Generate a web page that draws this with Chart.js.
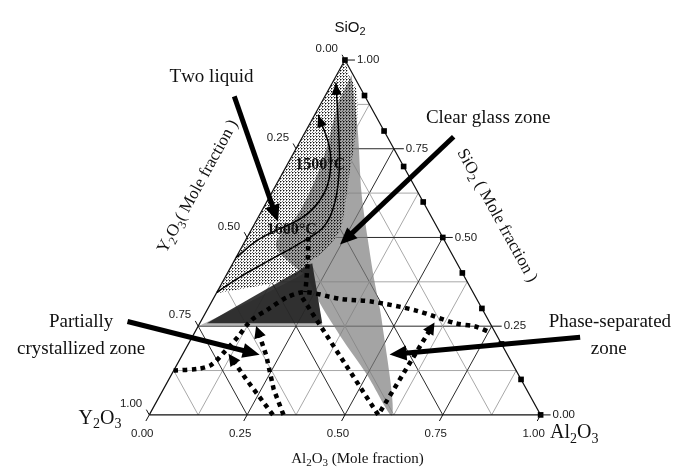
<!DOCTYPE html>
<html>
<head>
<meta charset="utf-8">
<script src="https://cdn.jsdelivr.net/npm/chart.js@4.4.1/dist/chart.umd.min.js"></script>
<style>
  html, body { margin: 0; padding: 0; background: #fff; }
  canvas { display: block; }
</style>
</head>
<body>
<canvas id="ternary" width="679" height="470"></canvas>
<script>
// Compositions are [Al2O3, SiO2] mole fractions (Y2O3 = 1 - Al2O3 - SiO2)
const tickValues = [0, 0.25, 0.5, 0.75, 1];
const gridSteps = [0.125, 0.25, 0.375, 0.5, 0.625, 0.75, 0.875];
const edgeMarkers = [0, 0.1, 0.2, 0.3, 0.4, 0.5, 0.6, 0.7, 0.8, 0.9, 1]; // SiO2 on the Al2O3-SiO2 side

const twoLiquid = [[0, 1], [0.038, 0.95], [0.067, 0.922], [0.106, 0.853], [0.14, 0.77], [0.169, 0.687], [0.2, 0.604],
  [0.227, 0.521], [0.217, 0.465], [0.196, 0.432], [0.189, 0.404], [0.162, 0.382], [0.11, 0.366], [0.058, 0.355], [0, 0.343]];
const clearGlass = [[0.038, 0.958], [0.134, 0.798], [0.231, 0.623], [0.33, 0.465], [0.389, 0.374], [0.458, 0.271], [0.621, 0],
  [0.499, 0.114], [0.375, 0.224], [0.266, 0.327], [0.201, 0.396], [0.184, 0.404], [0.084, 0.479], [0.098, 0.576], [0.085, 0.715], [0.042, 0.881]];
const crystalHalo = [[0, 0.25], [0.1, 0.321], [0.19, 0.393], [0.206, 0.421], [0.316, 0.252]];
const crystalCore = [[0.018, 0.258], [0.189, 0.416], [0.203, 0.427], [0.313, 0.258]];

const innerIsotherm = [[0, 0.443], [0.031, 0.493], [0.073, 0.526], [0.105, 0.548], [0.128, 0.582], [0.134, 0.632], [0.119, 0.687], [0.082, 0.756], [0.009, 0.845]];
const outerIsotherm = [[0, 0.346], [0.04, 0.391], [0.092, 0.438], [0.144, 0.485], [0.18, 0.529], [0.177, 0.59], [0.148, 0.673], [0.1, 0.77], [0.009, 0.936]];

const liquidusLine = [[0, 0.125], [0.061, 0.13], [0.088, 0.141], [0.103, 0.177], [0.117, 0.222], [0.127, 0.266], [0.156, 0.299], [0.187, 0.332],
  [0.226, 0.346], [0.324, 0.327], [0.411, 0.319], [0.535, 0.294], [0.654, 0.258], [0.709, 0.249], [0.756, 0.232]];
const verticalPath = [[0.156, 0.501], [0.19, 0.43], [0.226, 0.346]];
const phasePath = [[0.226, 0.33], [0.585, 0], [0.598, 0.249]];
const crystalPathA = [[0.316, 0], [0.198, 0.1], [0.129, 0.161]];
const crystalPathB = [[0.343, 0], [0.282, 0.072], [0.214, 0.169], [0.158, 0.238]];

const toXY = ([a, s]) => ({ x: a + s / 2, y: s });

// plot window (cartesian units, triangle base = 0..1)
const X_MIN = -0.3712, X_MAX = 1.3434, Y_MIN = -0.144, Y_MAX = 1.1579;

// callout arrows, cartesian plot units [from, to]
const callouts = [
  [[0.2172, 0.8975], [0.3232, 0.5623]],
  [[0.7778, 0.7839], [0.5, 0.4931]],
  [[-0.0556, 0.2632], [0.2652, 0.1745]],
  [[1.101, 0.2188], [0.6313, 0.1717]]
];

const SERIF = '"Liberation Serif", "Times New Roman", serif';
const SANS = '"Liberation Sans", Arial, sans-serif';

const labels = [
  { text: 'Two liquid', at: [0.159, 0.956], size: 19 },
  { text: 'Clear glass zone', at: [0.866, 0.839], size: 19 },
  { text: 'Partially', at: [-0.174, 0.266], size: 19 },
  { text: 'crystallized zone', at: [-0.174, 0.188], size: 19 },
  { text: 'Phase-separated', at: [1.177, 0.266], size: 19 },
  { text: 'zone', at: [1.174, 0.188], size: 19 },
  { text: '1500°C', at: [0.437, 0.709], size: 16, weight: 'bold' },
  { text: '1600°C', at: [0.364, 0.526], size: 16, weight: 'bold' },
  { text: 'Y_2O_3', at: [-0.126, -0.006], size: 20 },
  { text: 'Al_2O_3', at: [1.086, -0.047], size: 20 },
  { text: 'Al_2O_3 (Mole fraction)', at: [0.532, -0.122], size: 15 },
  { text: 'SiO_2', at: [0.513, 1.094], size: 15, family: SANS }
];

function stipple() {
  const tile = document.createElement('canvas');
  tile.width = 3; tile.height = 3;
  const t = tile.getContext('2d');
  t.fillStyle = 'rgba(0,0,0,0.95)';
  t.fillRect(1, 1, 1, 1);
  t.fillStyle = 'rgba(0,0,0,0.55)';
  t.fillRect(0, 0, 1, 1);
  t.fillStyle = 'rgba(0,0,0,0.4)';
  t.fillRect(2, 1, 1, 1);
  t.fillRect(1, 2, 1, 1);
  return t.createPattern(tile, 'repeat');
}

// build layers bottom -> top
const layers = [];

gridSteps.forEach(g => {
  const major = Math.abs(g * 4 - Math.round(g * 4)) < 1e-6;
  const style = { borderColor: major ? '#2a2a2a' : '#a8a8a8', borderWidth: 1 };
  layers.push({ data: [[0, g], [1 - g, g]].map(toXY), ...style });
  layers.push({ data: [[g, 0], [g, 1 - g]].map(toXY), ...style });
  layers.push({ data: [[1 - g, 0], [0, 1 - g]].map(toXY), ...style });
});

layers.push({ data: twoLiquid.map(toXY), fill: 'shape', backgroundColor: '#ffffff', borderWidth: 0, tension: 0.3 });
layers.push({ data: clearGlass.map(toXY), fill: 'shape', backgroundColor: 'rgba(125,125,125,0.7)', borderWidth: 0, tension: 0.3 });
layers.push({ data: twoLiquid.map(toXY), fill: 'shape', backgroundColor: stipple(), borderWidth: 0, tension: 0.3 });
layers.push({ data: crystalHalo.map(toXY), fill: 'shape', backgroundColor: 'rgba(150,150,150,0.7)', borderWidth: 0 });
layers.push({ data: crystalCore.map(toXY), fill: 'shape', backgroundColor: 'rgba(30,30,30,0.88)', borderWidth: 0 });

layers.push({ data: [[0, 0], [1, 0], [0, 1], [0, 0]].map(toXY), borderColor: '#111', borderWidth: 1.2 });

layers.push({ data: innerIsotherm.map(toXY), borderColor: '#000', borderWidth: 1.5, tension: 0.4, arrow: { len: 12, half: 5, lead: 0 } });
layers.push({ data: outerIsotherm.map(toXY), borderColor: '#000', borderWidth: 1.5, tension: 0.4, arrow: { len: 12, half: 5, lead: 0 } });

const dotted = { borderColor: '#000', borderWidth: 4.5, borderDash: [4.5, 4.5], borderCapStyle: 'butt' };
layers.push({ data: liquidusLine.map(toXY), tension: 0.3, ...dotted });
layers.push({ data: verticalPath.map(toXY), ...dotted });
layers.push({ data: phasePath.map(toXY), ...dotted, arrow: { len: 12, half: 6, lead: 0.4 } });
layers.push({ data: crystalPathA.map(toXY), ...dotted, arrow: { len: 12, half: 6, lead: 0.4 } });
layers.push({ data: crystalPathB.map(toXY), ...dotted, arrow: { len: 12, half: 6, lead: 0.4 } });

layers.push({
  data: edgeMarkers.map(s => toXY([1 - s, s])), showLine: false,
  pointStyle: 'rect', pointRadius: 4, pointBackgroundColor: '#000', pointBorderWidth: 0
});

callouts.forEach(c => {
  layers.push({ data: c.map(([x, y]) => ({ x, y })), borderColor: '#000', borderWidth: 5, arrow: { len: 17, half: 7.5, lead: 0.4 } });
});

const datasets = layers.map((d, i) => ({ showLine: true, fill: false, pointRadius: 0, order: layers.length - i, ...d }));

// text with single-char subscripts written as _x
function richText(ctx, str, x, y, size, family, align, weight) {
  const parts = [];
  for (let i = 0; i < str.length; i++) {
    if (str[i] === '_') { parts.push({ t: str[i + 1], sub: true }); i++; }
    else parts.push({ t: str[i], sub: false });
  }
  const mainFont = `${weight || 'normal'} ${size}px ${family}`;
  const subFont = `${weight || 'normal'} ${Math.round(size * 0.72)}px ${family}`;
  let total = 0;
  parts.forEach(p => { ctx.font = p.sub ? subFont : mainFont; p.w = ctx.measureText(p.t).width; total += p.w; });
  let cx = align === 'center' ? x - total / 2 : align === 'right' ? x - total : x;
  ctx.textAlign = 'left';
  ctx.textBaseline = 'alphabetic';
  const base = y + size * 0.33;
  parts.forEach(p => {
    ctx.font = p.sub ? subFont : mainFont;
    ctx.fillText(p.t, cx, p.sub ? base + size * 0.22 : base);
    cx += p.w;
  });
}

const arrowHeads = {
  id: 'arrowHeads',
  afterDatasetsDraw(chart) {
    const ctx = chart.ctx;
    chart.data.datasets.forEach((ds, i) => {
      if (!ds.arrow) return;
      const pts = chart.getDatasetMeta(i).data;
      const p2 = pts[pts.length - 1];
      let p1 = pts[pts.length - 2];
      if (p2.cp1x !== undefined && Math.hypot(p2.x - p2.cp1x, p2.y - p2.cp1y) > 1) p1 = { x: p2.cp1x, y: p2.cp1y };
      const ang = Math.atan2(p2.y - p1.y, p2.x - p1.x);
      const { len, half, lead } = ds.arrow;
      ctx.save();
      ctx.translate(p2.x + Math.cos(ang) * len * lead, p2.y + Math.sin(ang) * len * lead);
      ctx.rotate(ang);
      ctx.beginPath();
      ctx.moveTo(0, 0);
      ctx.lineTo(-len, -half);
      ctx.lineTo(-len, half);
      ctx.closePath();
      ctx.fillStyle = '#000';
      ctx.fill();
      ctx.restore();
    });
  }
};

const axisText = {
  id: 'axisText',
  afterDraw(chart) {
    const ctx = chart.ctx;
    const { x: sx, y: sy } = chart.scales;
    const pt = ([a, s]) => { const p = toXY([a, s]); return { x: sx.getPixelForValue(p.x), y: sy.getPixelForValue(p.y) }; };
    const yCorner = pt([0, 0]), aCorner = pt([1, 0]), apex = pt([0, 1]);
    const unit = (p, q) => { const dx = q.x - p.x, dy = q.y - p.y, n = Math.hypot(dx, dy); return { x: dx / n, y: dy / n }; };
    const upLeft = unit(aCorner, apex);
    const downLeft = unit(apex, yCorner);

    ctx.save();
    ctx.strokeStyle = '#111';
    ctx.lineWidth = 1;
    ctx.fillStyle = '#1a1a1a';
    ctx.font = `11.5px ${SANS}`;
    tickValues.forEach(v => {
      const lab = v.toFixed(2);
      // left: Y2O3
      let p = pt([0, 1 - v]);
      ctx.beginPath(); ctx.moveTo(p.x, p.y); ctx.lineTo(p.x + upLeft.x * 6, p.y + upLeft.y * 6); ctx.stroke();
      ctx.textAlign = 'right'; ctx.textBaseline = 'middle';
      ctx.fillText(lab, p.x - 7, p.y - 11);
      // bottom: Al2O3
      p = pt([v, 0]);
      ctx.beginPath(); ctx.moveTo(p.x, p.y); ctx.lineTo(p.x + downLeft.x * 7, p.y + downLeft.y * 7); ctx.stroke();
      ctx.textAlign = 'center';
      ctx.fillText(lab, p.x - 7, p.y + 19);
      // right: SiO2
      p = pt([1 - v, v]);
      ctx.beginPath(); ctx.moveTo(p.x, p.y); ctx.lineTo(p.x + 10, p.y); ctx.stroke();
      ctx.textAlign = 'left';
      ctx.fillText(lab, p.x + 12, p.y);
    });

    ctx.fillStyle = '#111';
    labels.forEach(l => {
      richText(ctx, l.text, sx.getPixelForValue(l.at[0]), sy.getPixelForValue(l.at[1]), l.size, l.family || SERIF, 'center', l.weight);
    });

    // rotated side titles, parallel to the triangle edges
    const sideTitle = (text, at, from, to) => {
      ctx.save();
      ctx.translate(sx.getPixelForValue(at[0]), sy.getPixelForValue(at[1]));
      ctx.rotate(Math.atan2(to.y - from.y, to.x - from.x));
      richText(ctx, text, 0, 0, 17, SERIF, 'center');
      ctx.restore();
    };
    sideTitle('Y_2O_3( Mole fraction )', [0.122, 0.645], yCorner, apex);
    sideTitle('SiO_2 ( Mole fraction )', [0.891, 0.563], apex, aCorner);
    ctx.restore();
  }
};

new Chart(document.getElementById('ternary').getContext('2d'), {
  type: 'scatter',
  data: { datasets },
  options: {
    responsive: false,
    animation: false,
    devicePixelRatio: 1,
    layout: { padding: 0 },
    elements: { point: { radius: 0, hoverRadius: 0 } },
    plugins: { legend: { display: false }, tooltip: { enabled: false } },
    scales: {
      x: { type: 'linear', min: X_MIN, max: X_MAX, display: false },
      y: { type: 'linear', min: Y_MIN, max: Y_MAX, display: false }
    }
  },
  plugins: [arrowHeads, axisText]
});
</script>
</body>
</html>
